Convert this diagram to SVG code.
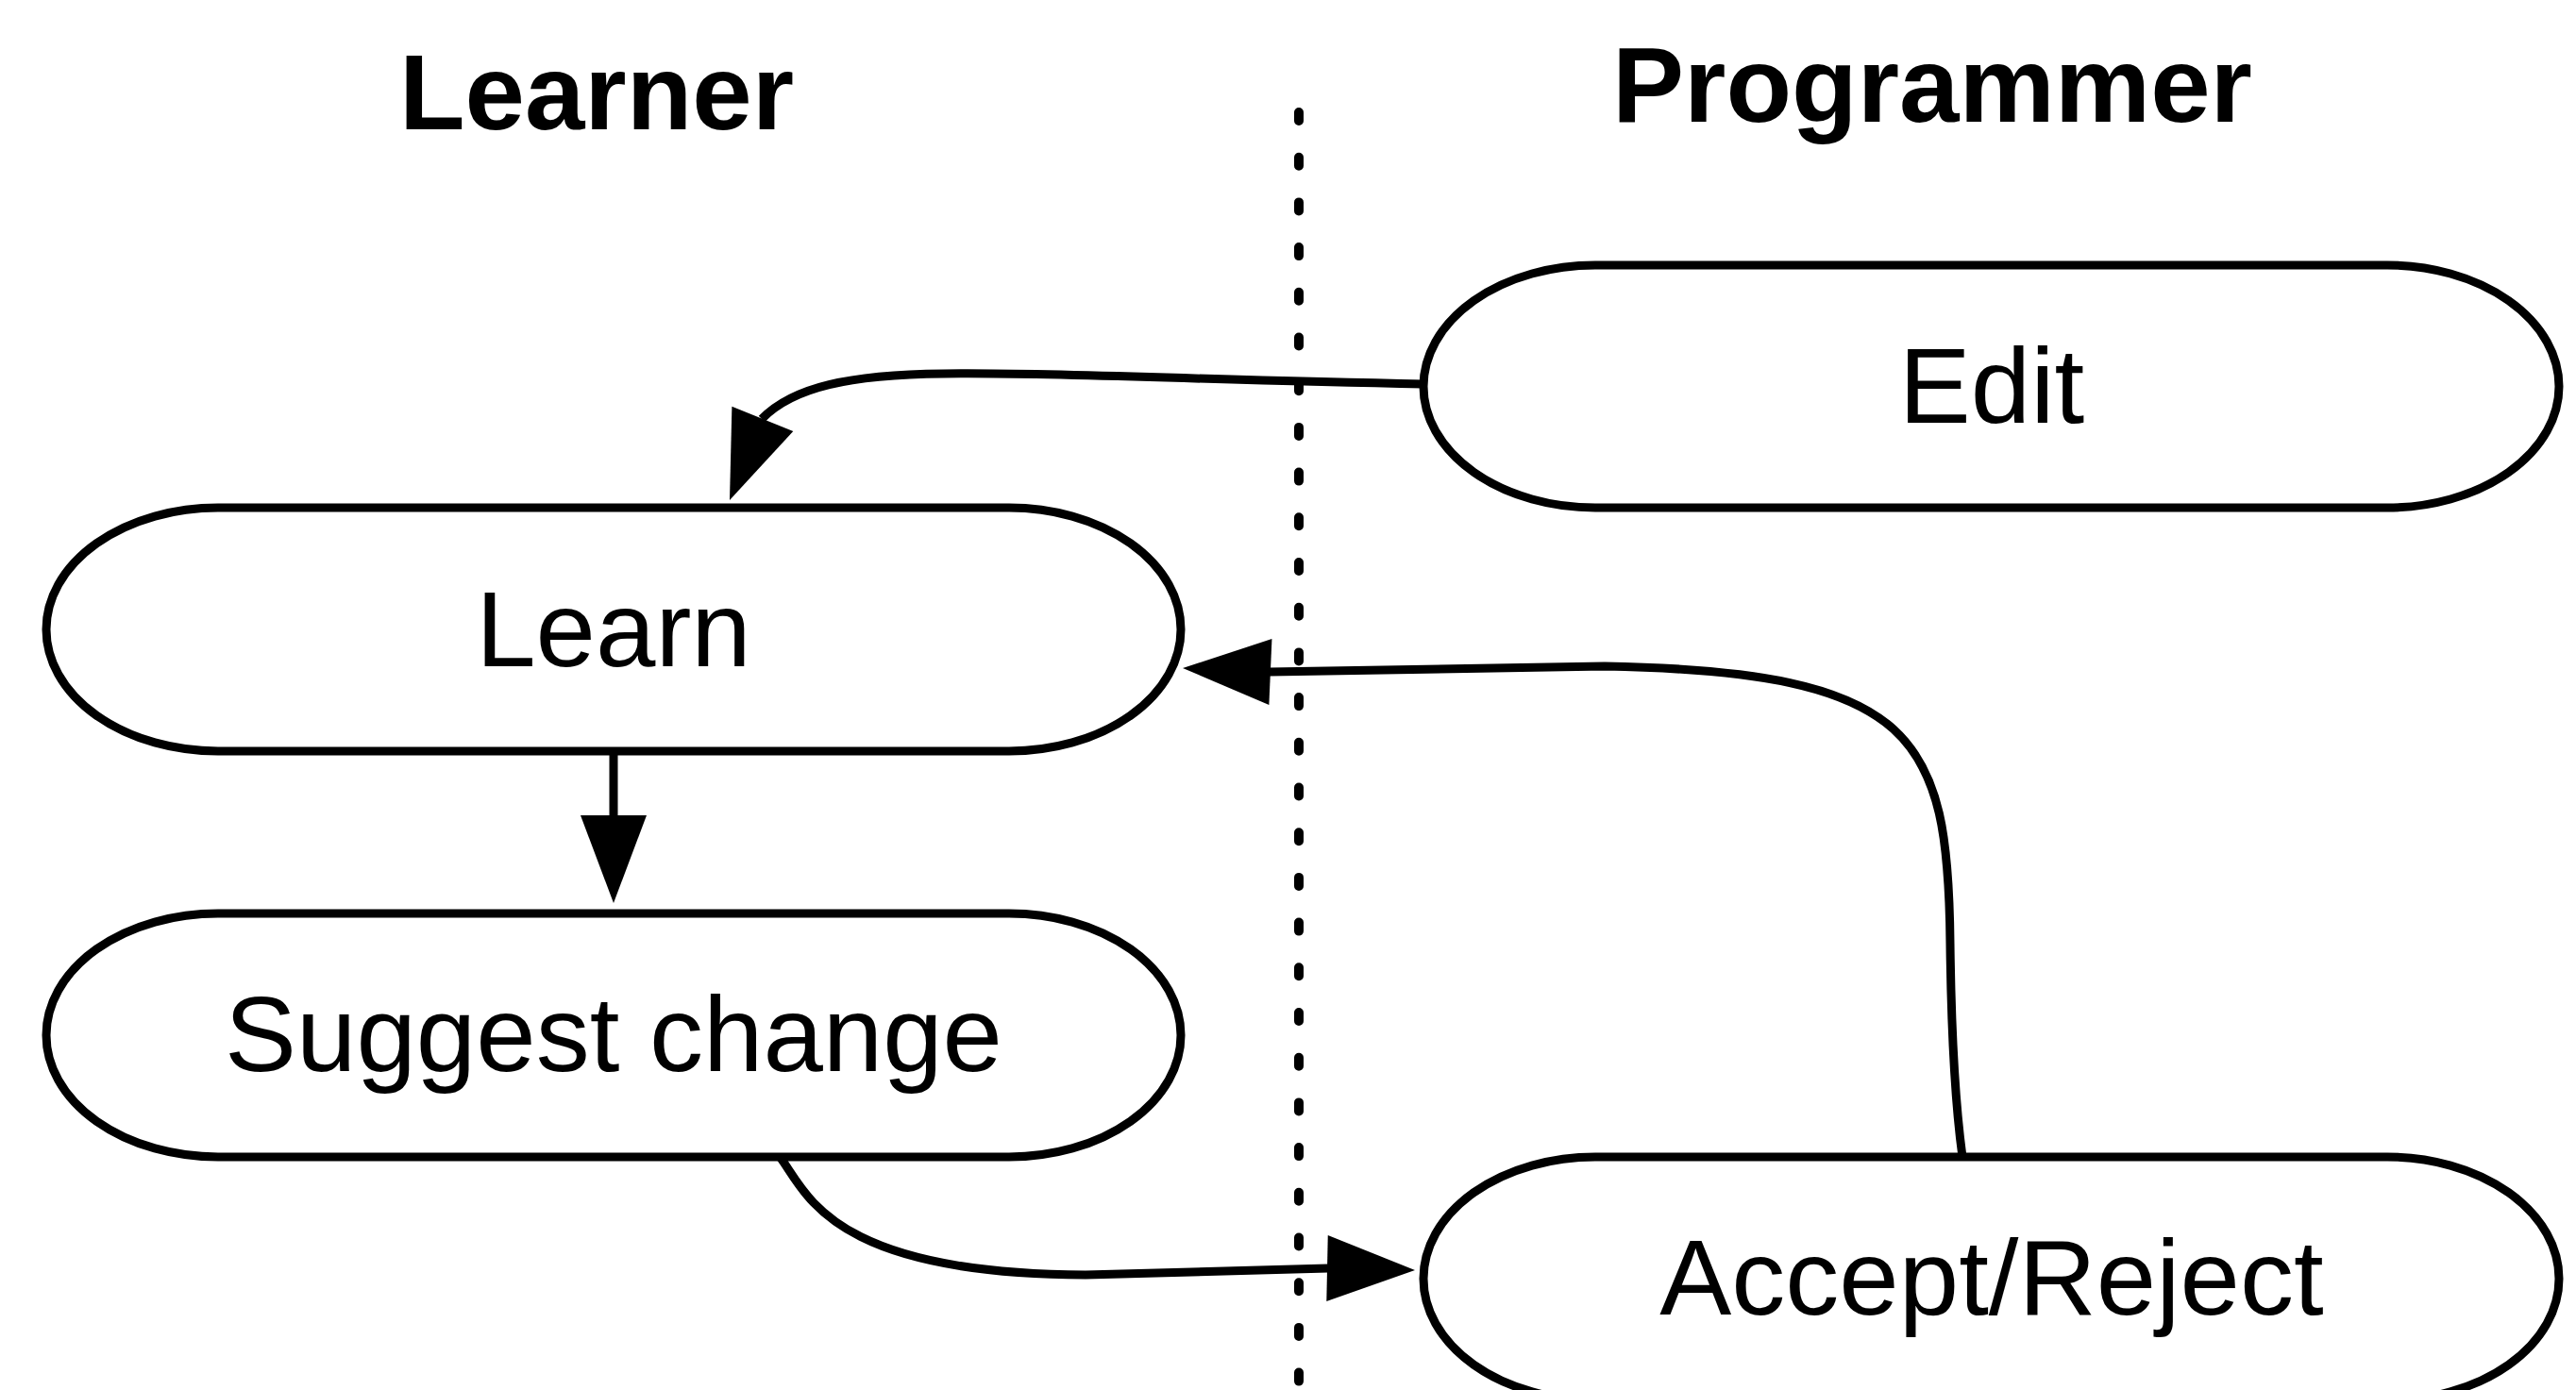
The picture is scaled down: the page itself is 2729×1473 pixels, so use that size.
<svg xmlns="http://www.w3.org/2000/svg" xmlns:xlink="http://www.w3.org/1999/xlink" width="2729" height="1473" viewBox="0 0 2729 1473">
  <style>
    .node { fill: #ffffff; stroke: #000000; stroke-width: 9; }
    .label { font-family: "Liberation Sans", Arial, Helvetica, sans-serif; font-size: 114px; fill: #000000; text-anchor: middle; }
    .title { font-family: "Liberation Sans", Arial, Helvetica, sans-serif; font-size: 114px; font-weight: bold; fill: #000000; text-anchor: middle; }
    .edge { fill: none; stroke: #000000; stroke-width: 9; }
    .divider { fill: none; stroke: #000000; stroke-width: 10; stroke-linecap: round; stroke-dasharray: 9 38.7; }
    .head { fill: #000000; stroke: none; }
  </style>
  <defs>
    <path id="ah" class="head" d="M0,0 L-93,-35 L-93,35 Z"/>
  </defs>
  <rect width="2729" height="1473" fill="#ffffff"/>

  <g id="titles">
    <text class="title" x="632" y="137">Learner</text>
    <text class="title" x="2047" y="129">Programmer</text>
  </g>

  <line id="divider" class="divider" x1="1376" y1="119" x2="1376" y2="1480"/>

  <g id="connectors">
    <path class="edge" d="M1508,407 C1250,402 1100,394 1000,396 C900,397 840,410 807,444"/>
    <use xlink:href="#ah" transform="translate(773,530) rotate(112)"/>

    <path class="edge" d="M650,796 L650,866"/>
    <use xlink:href="#ah" transform="translate(650,957) rotate(90)"/>

    <path class="edge" d="M827,1227 C855,1265 880,1350 1150,1351 L1407,1344"/>
    <use xlink:href="#ah" transform="translate(1499,1346) rotate(1.2)"/>

    <path class="edge" d="M2079,1226 C2070,1160 2067,1080 2066,1000 C2064,780 2030,712 1700,706 L1345,712"/>
    <use xlink:href="#ah" transform="translate(1253,708) rotate(182.5)"/>
  </g>

  <g id="node-edit">
    <rect class="node" x="1508" y="281" width="1203" height="257" rx="182" ry="128.5"/>
    <text class="label" x="2110" y="448">Edit</text>
  </g>
  <g id="node-learn">
    <rect class="node" x="49" y="538" width="1202" height="258" rx="182" ry="129"/>
    <text class="label" x="650" y="706">Learn</text>
  </g>
  <g id="node-suggest">
    <rect class="node" x="49" y="968" width="1202" height="258" rx="182" ry="129"/>
    <text class="label" x="650" y="1135">Suggest change</text>
  </g>
  <g id="node-accept">
    <rect class="node" x="1508" y="1226" width="1203" height="258" rx="182" ry="129"/>
    <text class="label" x="2110" y="1393">Accept/Reject</text>
  </g>
</svg>
